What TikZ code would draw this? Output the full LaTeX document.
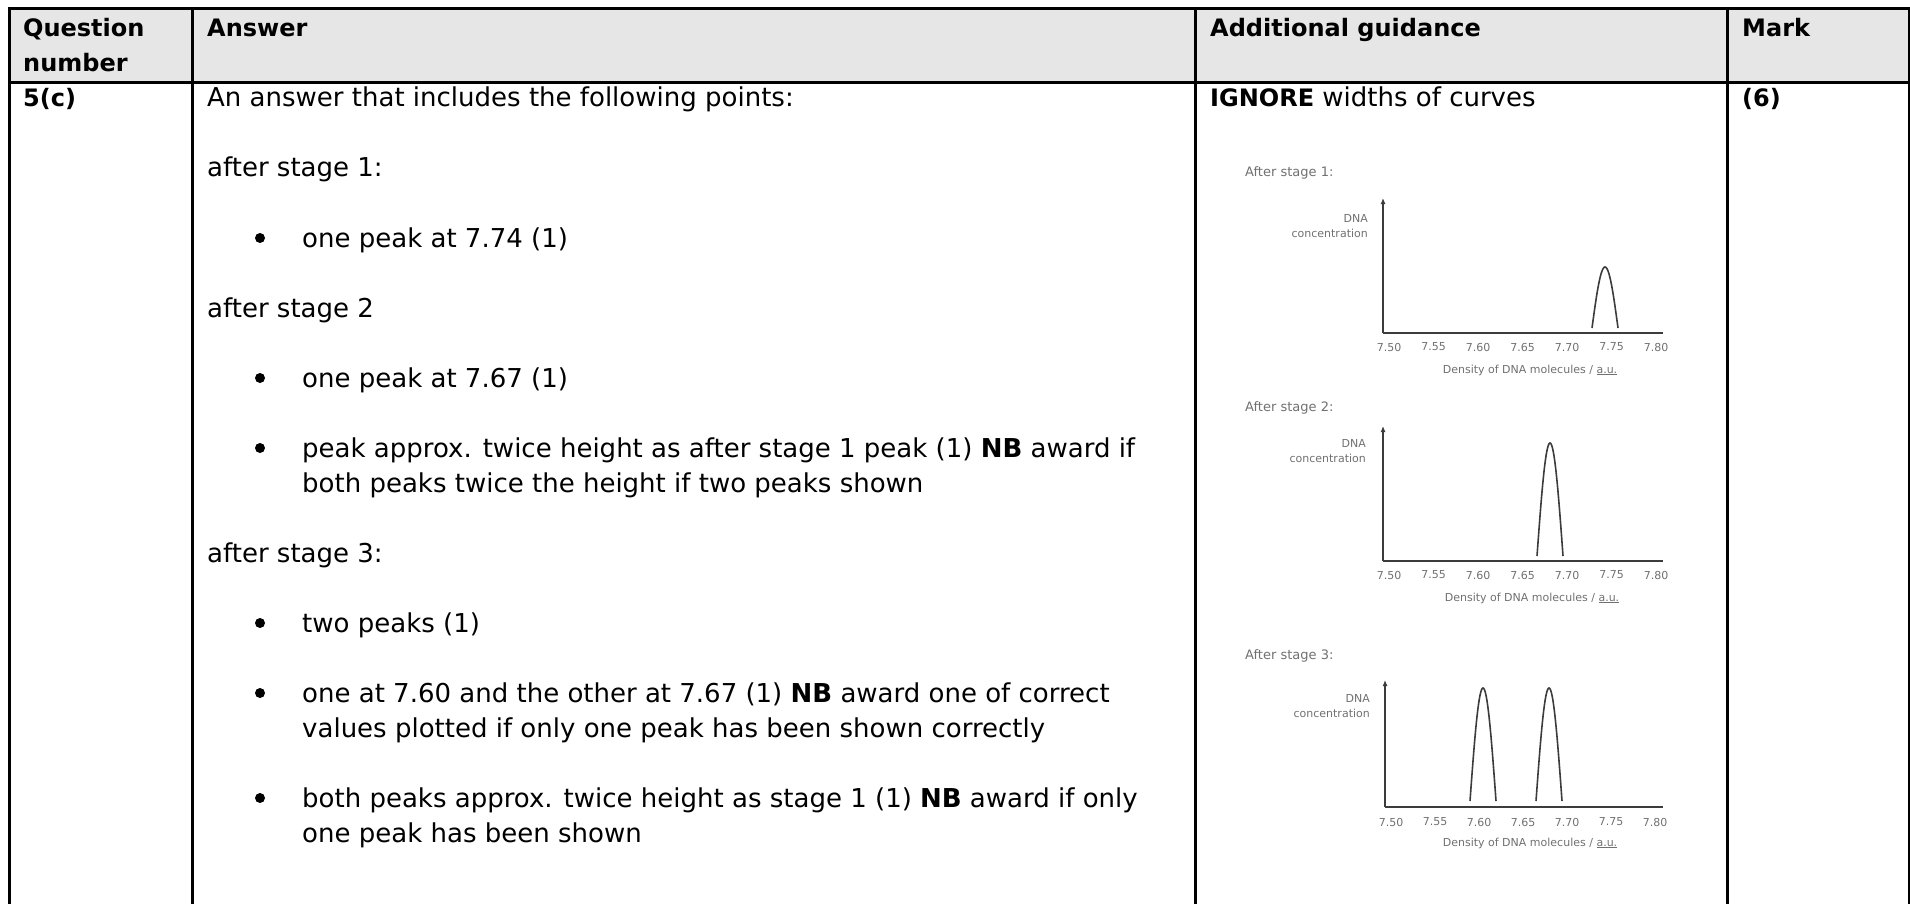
\documentclass[tikz,border=0pt]{standalone}
\usepackage{fontspec}
\setmainfont{DejaVu Sans}
\usetikzlibrary{arrows.meta}
\definecolor{hdrfill}{HTML}{E6E6E6}
\definecolor{plottext}{HTML}{707070}
\definecolor{plotaxis}{HTML}{3C3C3C}
\begin{document}
\begin{tikzpicture}[x=1pt,y=-1pt,
  txt/.style={anchor=base west, inner sep=0pt, font=\fontsize{26}{35}\selectfont},
  hd/.style={txt, font=\fontsize{24}{35}\selectfont\bfseries},
  bul/.style={circle, fill=black, inner sep=0pt, minimum size=10pt},
  rule/.style={line width=3pt, line cap=rect},
  gtitle/.style={anchor=base west, inner sep=0pt, text=plottext, font=\fontsize{13}{15}\selectfont},
  glab/.style={inner sep=0pt, text=plottext, font=\fontsize{11}{14}\selectfont},
  gconc/.style={anchor=east, align=right, inner sep=0pt, text=plottext, font=\fontsize{11}{15}\selectfont},
  gaxis/.style={line width=2.2pt, draw=plotaxis},
  peakline/.style={line width=1.6pt, draw=plotaxis}
]
\useasboundingbox (0,0) rectangle (1910,904);

% header background
\fill[hdrfill] (9,9) rectangle (1909,83);

% table rules
\coordinate (tl) at (9,9);
\coordinate (tr) at (1909,9);
\coordinate (hl) at (9,83);
\coordinate (hr) at (1909,83);
\draw[rule] (tl) -- (tr);
\draw[rule] (hl) -- (hr);
\draw[rule] (9,9) -- (9,904);
\draw[rule] (192,9) -- (192,904);
\draw[rule] (1195,9) -- (1195,904);
\draw[rule] (1727,9) -- (1727,904);
\draw[rule] (1909,9) -- (1909,904);

% header texts
\node[hd] (hq1) at (23,37) {Question};
\node[hd] (hq2) at (23,72) {number};
\node[hd] (ha) at (207,37) {Answer};
\node[hd] (hg) at (1210,37) {Additional guidance};
\node[hd] (hm) at (1742,37) {Mark};

% row texts
\node[hd] (qn) at (23,107) {5(c)};
\node[hd] (mk) at (1742,107) {(6)};
\node[txt] (ig) at (1210,107) {{\fontsize{24}{35}\selectfont\bfseries IGNORE} widths of curves};

\node[txt] (a0) at (207,107) {An answer that includes the following points:};
\node[txt] (s1) at (207,177) {after stage 1:};
\node[bul] (b1) at (260,238) {};
\node[txt] (p1) at (302,247) {one peak at 7.74 (1)};
\node[txt] (s2) at (207,317) {after stage 2};
\node[bul] (b2) at (260,378) {};
\node[txt] (p2) at (302,387) {one peak at 7.67 (1)};
\node[bul] (b3) at (260,448) {};
\node[txt] (p3a) at (302,457) {peak approx. twice height as after stage 1 peak (1) \textbf{NB} award if};
\node[txt] (p3b) at (302,492) {both peaks twice the height if two peaks shown};
\node[txt] (s3) at (207,562) {after stage 3:};
\node[bul] (b4) at (260,623) {};
\node[txt] (p4) at (302,632) {two peaks (1)};
\node[bul] (b5) at (260,693) {};
\node[txt] (p5a) at (302,702) {one at 7.60 and the other at 7.67 (1) \textbf{NB} award one of correct};
\node[txt] (p5b) at (302,737) {values plotted if only one peak has been shown correctly};
\node[bul] (b6) at (260,798) {};
\node[txt] (p6a) at (302,807) {both peaks approx. twice height as stage 1 (1) \textbf{NB} award if only};
\node[txt] (p6b) at (302,842) {one peak has been shown};

% ---------- graph 1 ----------
\node[gtitle] (g1t) at (1245,177) {After stage 1:};
\coordinate (g1o) at (1383,333);
\coordinate (g1y) at (1383,198);
\coordinate (g1x) at (1663,333);
\draw[gaxis, -{Latex[length=6pt,width=5pt]}] (g1o) -- (g1y);
\draw[gaxis] (g1o) -- (g1x);
\node[gconc] (g1c) at (1368,226) {DNA\\concentration};
\foreach \v [count=\i from 0] in {7.50,7.55,7.60,7.65,7.70,7.75,7.80}
  \node[glab] (g1l\i) at ({1389+44.5*\i},347) {\v};
\node[glab] (g1a) at (1530,370) {Density of DNA molecules / \underline{a.u.}};
\draw[peakline] plot[domain=-13:13, samples=41, smooth] ({1605+\x},{328-61*cos(\x*90/13)});

% ---------- graph 2 ----------
\node[gtitle] (g2t) at (1245,411) {After stage 2:};
\coordinate (g2o) at (1383,561);
\coordinate (g2y) at (1383,426);
\coordinate (g2x) at (1663,561);
\draw[gaxis, -{Latex[length=6pt,width=5pt]}] (g2o) -- (g2y);
\draw[gaxis] (g2o) -- (g2x);
\node[gconc] (g2c) at (1366,451) {DNA\\concentration};
\foreach \v [count=\i from 0] in {7.50,7.55,7.60,7.65,7.70,7.75,7.80}
  \node[glab] (g2l\i) at ({1389+44.5*\i},575) {\v};
\node[glab] (g2a) at (1532,598) {Density of DNA molecules / \underline{a.u.}};
\draw[peakline] plot[domain=-13:13, samples=41, smooth] ({1550+\x},{556-113*cos(\x*90/13)});

% ---------- graph 3 ----------
\node[gtitle] (g3t) at (1245,659) {After stage 3:};
\coordinate (g3o) at (1385,807);
\coordinate (g3y) at (1385,680);
\coordinate (g3x) at (1663,807);
\draw[gaxis, -{Latex[length=6pt,width=5pt]}] (g3o) -- (g3y);
\draw[gaxis] (g3o) -- (g3x);
\node[gconc] (g3c) at (1370,706) {DNA\\concentration};
\foreach \v [count=\i from 0] in {7.50,7.55,7.60,7.65,7.70,7.75,7.80}
  \node[glab] (g3l\i) at ({1391+44*\i},822) {\v};
\node[glab] (g3a) at (1530,843) {Density of DNA molecules / \underline{a.u.}};
\draw[peakline] plot[domain=-13:13, samples=41, smooth] ({1483+\x},{801-113*cos(\x*90/13)});
\draw[peakline] plot[domain=-13:13, samples=41, smooth] ({1549+\x},{801-113*cos(\x*90/13)});

\end{tikzpicture}
\end{document}
